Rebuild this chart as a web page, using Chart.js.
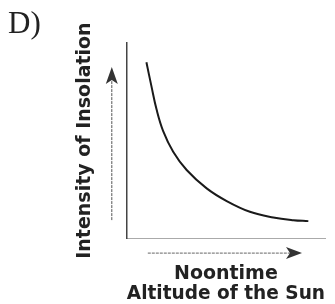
<!DOCTYPE html>
<html>
<head>
<meta charset="utf-8">
<script src="https://cdn.jsdelivr.net/npm/chart.js@4.4.1/dist/chart.umd.min.js"></script>
<style>
  html, body { margin: 0; padding: 0; background: #fff; }
  #wrap { width: 335px; height: 304px; position: relative; }
</style>
</head>
<body>
<div id="wrap"><canvas id="chart1"></canvas></div>
<script>
// altitude of the sun (x) vs intensity (y), 0..10 scale
const altitude = [0.99, 1.25, 1.50, 1.83, 2.34, 3.02, 4.03, 5.04, 6.21, 7.39, 8.40, 9.16];
const intensity = [9.01, 7.75, 6.60, 5.50, 4.43, 3.49, 2.55, 1.90, 1.35, 1.06, 0.92, 0.87];
const panelLabel = 'D)';
const yTitle = 'Intensity of Insolation';
const xTitle = ['Noontime', 'Altitude of the Sun'];

const points = altitude.map((a, i) => ({x: a, y: intensity[i]}));

// arrows next to the axes and the panel letter
const extras = {
  id: 'extras',
  afterDraw(chart) {
    const ctx = chart.ctx;
    const a = chart.chartArea;
    ctx.save();

    // up arrow left of the y axis
    const ax = a.left - 15;
    ctx.strokeStyle = '#555';
    ctx.lineWidth = 1;
    ctx.setLineDash([3, 1]);
    ctx.beginPath();
    ctx.moveTo(ax, a.bottom - 18);
    ctx.lineTo(ax, a.top + 36);
    ctx.stroke();
    ctx.setLineDash([]);
    ctx.fillStyle = '#333';
    ctx.beginPath();
    ctx.moveTo(ax, a.top + 24);
    ctx.lineTo(ax + 6, a.top + 41);
    ctx.lineTo(ax, a.top + 37);
    ctx.lineTo(ax - 6, a.top + 41);
    ctx.closePath();
    ctx.fill();

    // right arrow under the x axis
    const ay = a.bottom + 15;
    ctx.strokeStyle = '#666';
    ctx.setLineDash([3, 1]);
    ctx.beginPath();
    ctx.moveTo(a.left + 21, ay);
    ctx.lineTo(a.right - 30, ay);
    ctx.stroke();
    ctx.setLineDash([]);
    ctx.beginPath();
    ctx.moveTo(a.right - 23, ay);
    ctx.lineTo(a.right - 39, ay - 6);
    ctx.lineTo(a.right - 35, ay);
    ctx.lineTo(a.right - 39, ay + 6);
    ctx.closePath();
    ctx.fill();

    // panel letter
    ctx.fillStyle = '#222';
    ctx.font = '31px "Liberation Serif"';
    ctx.textBaseline = 'alphabetic';
    ctx.fillText(panelLabel, 8, 33);
    ctx.restore();
  }
};

new Chart('chart1', {
  type: 'line',
  data: {
    datasets: [{
      data: points,
      borderColor: '#1a1a1a',
      borderWidth: 2,
      pointRadius: 0,
      fill: false,
      tension: 0.4
    }]
  },
  options: {
    responsive: true,
    maintainAspectRatio: false,
    animation: false,
    layout: {padding: {left: 0, top: 43, right: 10, bottom: 0}},
    plugins: {legend: {display: false}, tooltip: {enabled: false}},
    scales: {
      x: {
        type: 'linear', min: 0, max: 10,
        grid: {display: false, drawTicks: false},
        ticks: {display: false},
        border: {display: true, color: '#aaa', width: 1, dash: [2, 2]},
        title: {
          display: true, text: xTitle, color: '#222',
          font: {family: 'DejaVu Sans', weight: 'bold', size: 19, lineHeight: 1.05},
          padding: {top: 26, bottom: 0}
        }
      },
      y: {
        min: 0, max: 10,
        grid: {display: false, drawTicks: false},
        ticks: {display: false},
        border: {display: true, color: '#444', width: 1.5, dash: [3, 1]},
        title: {
          display: true, text: yTitle, color: '#222',
          font: {family: 'DejaVu Sans', weight: 'bold', size: 19, lineHeight: 1.2},
          padding: {top: 74, bottom: 30}
        }
      }
    }
  },
  plugins: [extras]
});
</script>
</body>
</html>
